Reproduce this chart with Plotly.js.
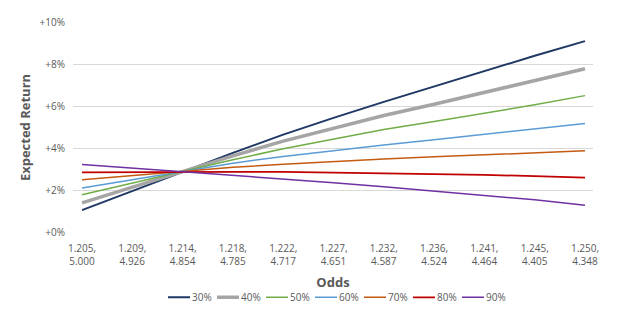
<!DOCTYPE html>
<html>
<head>
<meta charset="utf-8">
<script src="https://cdn.plot.ly/plotly-3.0.1.min.js"></script>
<style>html,body{margin:0;padding:0;background:#fff;}#chart{width:638px;height:328px;}</style>
</head>
<body>
<div id="chart"></div>
<script>
const oddsLabels = ["1.205,<br>5.000","1.209,<br>4.926","1.214,<br>4.854","1.218,<br>4.785","1.222,<br>4.717","1.227,<br>4.651","1.232,<br>4.587","1.236,<br>4.524","1.241,<br>4.464","1.245,<br>4.405","1.250,<br>4.348"];
const xIndex = [0,1,2,3,4,5,6,7,8,9,10];
const seriesNames = ["30%","40%","50%","60%","70%","80%","90%"];
const r30 = [1.06,1.98,2.90,3.79,4.66,5.46,6.22,6.96,7.70,8.42,9.12];
const r40 = [1.41,2.16,2.90,3.65,4.35,4.97,5.57,6.11,6.66,7.23,7.80];
const r50 = [1.79,2.35,2.90,3.46,3.99,4.45,4.90,5.29,5.69,6.08,6.52];
const r60 = [2.12,2.51,2.90,3.30,3.62,3.90,4.16,4.42,4.68,4.94,5.19];
const r70 = [2.51,2.71,2.90,3.10,3.25,3.38,3.50,3.60,3.70,3.79,3.89];
const r80 = [2.86,2.88,2.90,2.89,2.88,2.85,2.82,2.78,2.74,2.68,2.61];
const r90 = [3.24,3.07,2.90,2.73,2.57,2.37,2.18,1.97,1.73,1.55,1.29];
const yTicks = [0,2,4,6,8,10];
const yTickLabels = ["+0%","+2%","+4%","+6%","+8%","+10%"];

const seriesData = [r30,r40,r50,r60,r70,r80,r90];
const colors = ["#1F3864","#A5A5A5","#70AD47","#5B9BD5","#C55A11","#C00000","#7030A0"];
const widths = [2,3.5,1.5,1.5,1.5,1.75,1.5];

const traces = seriesData.map((ys,i)=>({
  type:'scatter', mode:'lines', x:xIndex, y:ys, name:seriesNames[i],
  line:{color:colors[i], width:widths[i]}
}));

const fam = '"Open Sans", "Liberation Sans", sans-serif';

const layout = {
  width:638, height:328,
  margin:{l:73, r:45, t:22, b:95},
  paper_bgcolor:'#fff', plot_bgcolor:'#fff',
  font:{family:fam, color:'#595959', size:10},
  showlegend:true,
  legend:{orientation:'h', x:0.5, xanchor:'center', y:-0.305, yanchor:'middle', bgcolor:'rgba(0,0,0,0)',
    font:{family:fam, color:'#595959', size:10}, itemwidth:30, entrywidth:24, traceorder:'normal'},
  xaxis:{
    tickmode:'array', tickvals:xIndex, ticktext:oddsLabels,
    range:[-0.179,10.159], showgrid:false, zeroline:false, showline:false, ticks:'',
    tickfont:{size:10, color:'#595959'}, ticklabelstandoff:8,
    title:{text:'<b>Odds</b>', font:{size:13, color:'#595959'}, standoff:10}
  },
  yaxis:{
    range:[-0.03,10.03], tickmode:'array', tickvals:yTicks, ticktext:yTickLabels,
    showgrid:true, gridcolor:'#D9D9D9', gridwidth:1, zeroline:false, showline:false, ticks:'',
    tickfont:{size:10, color:'#595959'}, ticklabelstandoff:7,
    title:{text:'<b>Expected Return</b>', font:{size:13, color:'#595959'}, standoff:6}
  }
};

const gd = document.getElementById('chart');
Plotly.newPlot(gd, traces, layout, {staticPlot:true, displayModeBar:false}).then(()=>{
  // compact legend entries like the original (short line sample, tight spacing)
  const items = gd.querySelectorAll('.legend .traces');
  const period = 49;
  items.forEach((g,i)=>{
    const tr = g.getAttribute('transform') || '';
    const m = tr.match(/translate\(\s*([-\d.]+)[ ,]+([-\d.]+)\s*\)/);
    const y = m ? parseFloat(m[2]) : 0;
    g.setAttribute('transform', 'translate(' + (i*period) + ',' + y + ')');
    g.querySelectorAll('.legendlines path, path.js-line').forEach(p=>p.setAttribute('d','M0,0h22'));
    const t = g.querySelector('.legendtext');
    if (t) { t.setAttribute('x', 24); t.querySelectorAll('tspan').forEach(s=>{ if (s.getAttribute('x')!==null) s.setAttribute('x',24); }); }
  });
  const leg = gd.querySelector('.legend');
  if (leg) {
    const tr = leg.getAttribute('transform') || '';
    const m = tr.match(/translate\(\s*([-\d.]+)[ ,]+([-\d.]+)\s*\)/);
    const y = m ? parseFloat(m[2]) : 290;
    leg.setAttribute('transform', 'translate(168,' + y + ')');
  }
});
</script>
</body>
</html>
